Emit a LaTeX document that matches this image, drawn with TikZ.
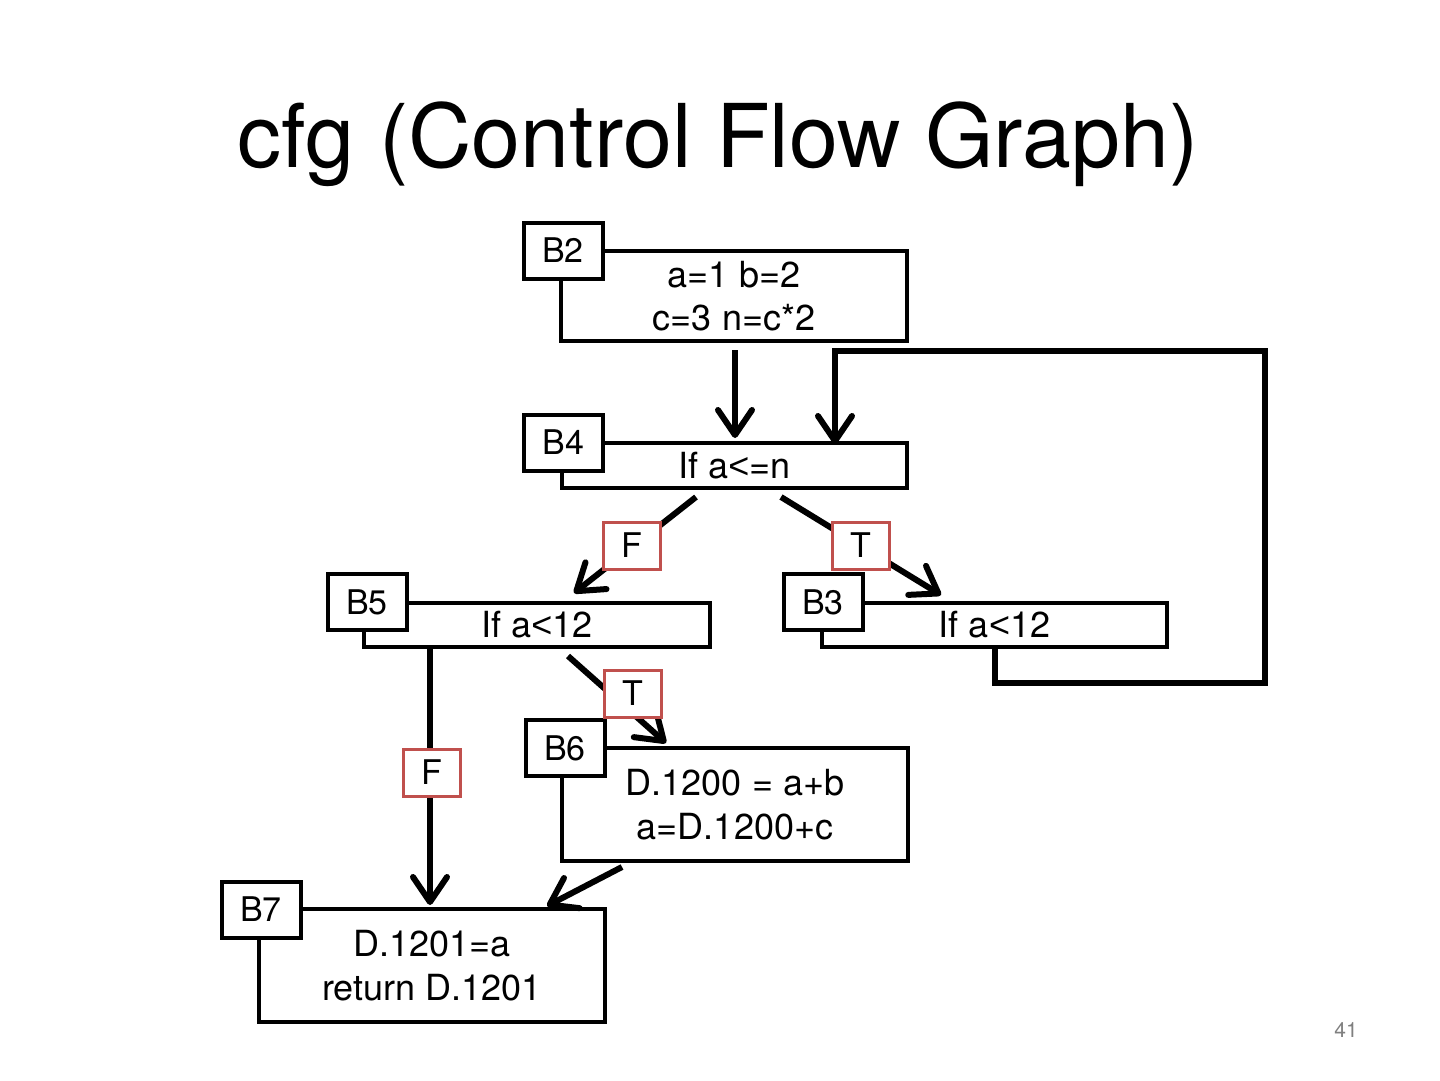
\documentclass[tikz,border=0pt]{standalone}
\usepackage{fontspec}
\setmainfont{TeX Gyre Heros}
\newfontfamily\ltfont{Liberation Sans}
\newcommand{\lessch}{{\ltfont <}}
\usetikzlibrary{arrows.meta}
\definecolor{lblred}{RGB}{192,80,77}
\definecolor{numgray}{RGB}{128,128,128}
\begin{document}
\begin{tikzpicture}[x=1pt,y=-1pt,
 mbox/.style={draw, line width=4pt, fill=white, inner sep=0pt, align=center, font=\fontsize{36}{43.5}\selectfont},
 tagbox/.style={draw, line width=4pt, fill=white, inner sep=0pt, minimum width=79pt, minimum height=56pt, font=\fontsize{34}{40}\selectfont},
 lbl/.style={draw=lblred, line width=3pt, fill=white, inner sep=0pt, minimum width=57pt, minimum height=47pt, font=\fontsize{34}{40}\selectfont},
 arr/.style={line width=6pt, -{Straight Barb[length=25pt,width=34pt,line cap=round,line join=round]}},
]
\useasboundingbox (0,0) rectangle (1440,1080);

\node[anchor=base, font=\fontsize{88}{100}\selectfont] (title) at (718,167) {cfg (Control Flow Graph)};
\node[font=\fontsize{21}{24}\selectfont, text=numgray] (pnum) at (1346,1030) {41};

% main boxes
\node[mbox, minimum width=346pt, minimum height=90pt] (b2) at (734,296) {a=1 b=2\\c=3 n=c*2};
\node[mbox, minimum width=345pt, minimum height=45pt] (b4) at (734.5,465.5) {If a\lessch=n};
\node[mbox, minimum width=346pt, minimum height=44pt] (b5) at (537,625) {If a\lessch12};
\node[mbox, minimum width=345pt, minimum height=44pt] (b3) at (994.5,625) {If a\lessch12};
\node[mbox, minimum width=346pt, minimum height=113pt] (b6) at (735,804.5) {D.1200 = a+b\\a=D.1200+c};
\node[mbox, minimum width=346pt, minimum height=113pt] (b7) at (432,965.5) {D.1201=a\\return D.1201};

% tags
\node[tagbox] (t2) at (563,250.5) {B2};
\node[tagbox] (t4) at (563.5,442.5) {B4};
\node[tagbox] (t5) at (367,602) {B5};
\node[tagbox] (t3) at (823,602) {B3};
\node[tagbox] (t6) at (565,748) {B6};
\node[tagbox] (t7) at (261,909.5) {B7};

% connectors
\draw[arr] ([shift={(1,7)}]b2.south) -- ([shift={(0.5,-3)}]b4.north);
\coordinate (lp1) at (995,683);
\coordinate (lp2) at (1265,683);
\coordinate (lp3) at (1265,351);
\coordinate (lp4) at (835,351);
\draw[arr, line join=miter] (lp1 |- b3.south) -- (lp1) -- (lp2) -- (lp3) -- (lp4) -- ([yshift=-3]lp4 |- b4.north);
\draw[arr] ([shift={(136,7)}]b4.south west) -- ([shift={(212,-8)}]b5.north west);
\draw[arr] ([shift={(221,7)}]b4.south west) -- ([shift={(121,-6)}]b3.north west);
\draw[arr] ([shift={(206,7)}]b5.south west) -- ([shift={(106,-3)}]b6.north west);
\draw[arr] ([shift={(68,0)}]b5.south west) -- ([shift={(173,-2)}]b7.north west);
\draw[arr] ([shift={(62,4)}]b6.south west) -- ([shift={(-60,-1)}]b7.north east);

% branch labels
\node[lbl] (lf1) at (631.5,545.5) {F};
\node[lbl] (lt1) at (860.5,545.5) {T};
\node[lbl] (lt2) at (632.5,693.5) {T};
\node[lbl] (lf2) at (431.5,772.5) {F};
\end{tikzpicture}
\end{document}
